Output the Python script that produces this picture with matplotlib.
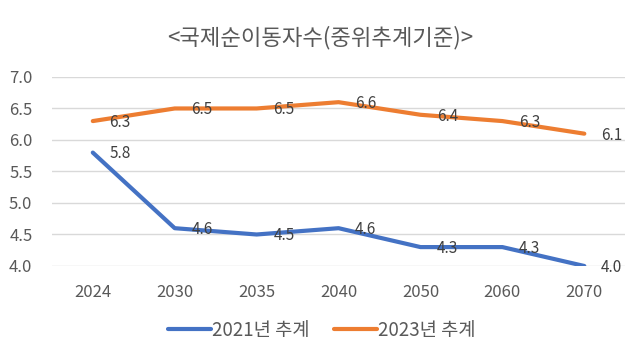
import matplotlib.pyplot as plt

plt.rcParams['font.family'] = ['Noto Sans CJK KR', 'DejaVu Sans']

years = ["2024", "2030", "2035", "2040", "2050", "2060", "2070"]
est_2021 = [5.8, 4.6, 4.5, 4.6, 4.3, 4.3, 4.0]
est_2023 = [6.3, 6.5, 6.5, 6.6, 6.4, 6.3, 6.1]

blue = "#4472C4"
orange = "#ED7D31"
txt = "#595959"

fig = plt.figure(figsize=(6.4, 3.58), dpi=100)
ax = fig.add_axes([0.081, 0.257, 0.896, 0.528])

x = range(len(years))
ax.plot(x, est_2021, color=blue, lw=3, label="2021년 추계", solid_capstyle="round")
ax.plot(x, est_2023, color=orange, lw=3, label="2023년 추계", solid_capstyle="round")

for xs, ys in [(x, est_2021), (x, est_2023)]:
    for xi, yi in zip(xs, ys):
        ax.annotate(f"{yi:.1f}", (xi, yi), xytext=(12, -1), textcoords="offset points",
                    ha="left", va="center", fontsize=11, color="#404040")

ax.set_xlim(-0.5, len(years) - 0.5)
ax.set_ylim(4.0, 7.0)
ax.set_yticks([4.0, 4.5, 5.0, 5.5, 6.0, 6.5, 7.0])
ax.set_yticklabels([f"{v:.1f}" for v in ax.get_yticks()])
ax.set_xticks(list(x))
ax.set_xticklabels(years)
ax.tick_params(length=0, labelsize=12, colors=txt)
ax.tick_params(axis="x", pad=13)
ax.tick_params(axis="y", pad=14)
ax.grid(axis="y", color="#D9D9D9", lw=1)
ax.set_axisbelow(True)
for s in ax.spines.values():
    s.set_visible(False)

fig.text(0.5, 0.895, "<국제순이동자수(중위추계기준)>", ha="center", va="center",
         fontsize=16, color=txt)
fig.legend(loc="center", bbox_to_anchor=(0.503, 0.078), ncol=2, frameon=False,
           fontsize=13.5, handlelength=2.3, handletextpad=0.05, columnspacing=1.3,
           labelcolor=txt)

fig.savefig("out.png", dpi=100)
